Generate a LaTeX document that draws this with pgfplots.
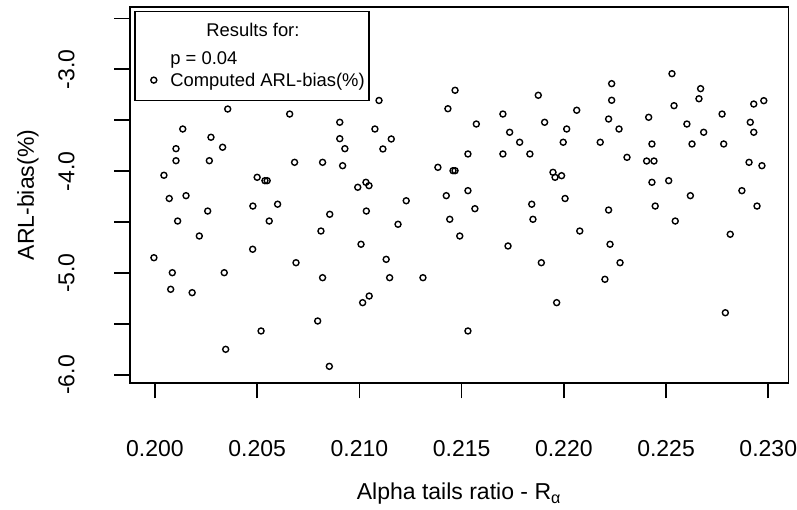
\documentclass[border=0pt]{standalone}
\usepackage{fontspec}
\setmainfont{Liberation Sans}
\usepackage{pgfplots}
\pgfplotsset{compat=1.18}
\begin{document}
\begin{tikzpicture}
\useasboundingbox (-65pt,-63.15pt) rectangle (333.5pt,191.35pt);
\begin{axis}[
  at={(0pt,0pt)}, anchor=south west,
  scale only axis,
  width=329.15pt, height=187.7pt,
  xmin=0.19878, xmax=0.23098,
  ymin=-6.0756, ymax=-2.3916,
  axis line style={line width=0.8pt, black},
  tick style={line width=0.8pt, black},
  tick align=outside, tick pos=left,
  major tick length=7.8pt,
  xtick={0.200,0.205,0.210,0.215,0.220,0.225,0.230},
  xticklabels={0.200,0.205,0.210,0.215,0.220,0.225,0.230},
  ytick={-6,-5.5,-5,-4.5,-4,-3.5,-3,-2.5},
  yticklabels={-6.0,,-5.0,,-4.0,,-3.0,},
  font=\fontsize{11.5}{13.5}\selectfont,
  xticklabel style={anchor=center, yshift=-25.2pt},
  yticklabel style={xshift=-24pt, rotate=90, anchor=center},
  xlabel={Alpha tails ratio - R\textsubscript{α}},
  ylabel={ARL-bias(\%)},
  xlabel style={at={(axis description cs:0.5,-0.2965)}, anchor=center},
  ylabel style={at={(axis description cs:-0.155,0.5)}, anchor=center},
  legend style={at={(axis description cs:0.0076,0.8825)}, anchor=north west,
    draw=none, fill=none, inner xsep=0pt, inner ysep=0pt,
    row sep=2.75pt, column sep=0pt, font=\fontsize{9.2}{11}\selectfont,
    nodes={inner sep=0pt}},
  legend cell align=left,
  clip=false,
]
\addlegendimage{empty legend}
\addlegendentry{p = 0.04}
\addplot[only marks, mark=o, mark size=1.5pt, line width=0.7pt, black,
  legend image code/.code={\path[draw=none,fill=none] (0pt,0pt) -- (17.5pt,0pt);
    \draw plot[only marks] coordinates {(9.2pt,0.6pt)};}]
coordinates {
(0.21096,-3.306)(0.20356,-3.390)(0.20659,-3.439)(0.20904,-3.520)(0.21076,-3.586)
(0.20136,-3.586)(0.20274,-3.667)(0.20904,-3.681)(0.20103,-3.779)(0.20331,-3.765)
(0.20929,-3.779)(0.20103,-3.897)(0.20266,-3.897)(0.20683,-3.913)(0.20820,-3.913)
(0.20918,-3.946)(0.20044,-4.040)(0.20500,-4.060)(0.20538,-4.093)(0.20549,-4.093)
(0.20992,-4.158)(0.21032,-4.109)(0.21047,-4.142)(0.20070,-4.268)(0.20152,-4.240)
(0.20479,-4.342)(0.20600,-4.324)(0.20258,-4.391)(0.21034,-4.391)(0.20855,-4.423)
(0.20111,-4.489)(0.20559,-4.489)(0.20217,-4.636)(0.20812,-4.587)(0.21008,-4.717)
(0.20478,-4.766)(0.19995,-4.849)(0.20690,-4.898)(0.20085,-4.996)(0.20339,-4.996)
(0.20820,-5.045)(0.20077,-5.159)(0.20182,-5.192)(0.21048,-5.225)(0.21016,-5.290)
(0.20796,-5.470)(0.20519,-5.568)(0.20346,-5.748)(0.20853,-5.915)
(0.21468,-3.206)(0.21875,-3.255)(0.21433,-3.387)(0.22063,-3.402)(0.21702,-3.439)
(0.21572,-3.537)(0.21906,-3.520)(0.21735,-3.618)(0.22014,-3.586)(0.21156,-3.684)
(0.21784,-3.716)(0.21997,-3.716)(0.21115,-3.782)(0.21531,-3.831)(0.21702,-3.831)
(0.21834,-3.831)(0.21384,-3.962)(0.21458,-3.995)(0.21468,-3.995)(0.21947,-4.011)
(0.21957,-4.060)(0.21989,-4.044)(0.21229,-4.290)(0.21425,-4.240)(0.21531,-4.191)
(0.21843,-4.324)(0.22006,-4.268)(0.21565,-4.368)(0.21189,-4.521)(0.21442,-4.472)
(0.21849,-4.472)(0.22078,-4.587)(0.21491,-4.636)(0.21727,-4.734)(0.21131,-4.865)
(0.21890,-4.898)(0.21148,-5.045)(0.21311,-5.045)(0.21965,-5.290)(0.21531,-5.568)
(0.22529,-3.043)(0.22234,-3.141)(0.22669,-3.190)(0.22234,-3.304)(0.22661,-3.289)
(0.22539,-3.357)(0.22929,-3.341)(0.22978,-3.308)(0.22219,-3.488)(0.22415,-3.471)
(0.22774,-3.439)(0.22270,-3.586)(0.22602,-3.537)(0.22912,-3.520)(0.22684,-3.618)
(0.22929,-3.618)(0.22178,-3.716)(0.22431,-3.733)(0.22627,-3.733)(0.22782,-3.733)
(0.22309,-3.864)(0.22405,-3.900)(0.22441,-3.900)(0.22906,-3.913)(0.22969,-3.946)
(0.22431,-4.109)(0.22513,-4.093)(0.22619,-4.240)(0.22871,-4.191)(0.22219,-4.381)
(0.22447,-4.342)(0.22945,-4.342)(0.22545,-4.489)(0.22814,-4.619)(0.22226,-4.717)
(0.22275,-4.898)(0.22201,-5.061)(0.22790,-5.389)
};
\addlegendentry{Computed ARL-bias(\%)}
\draw[line width=0.8pt, black] (axis description cs:0.0076,0.9883) rectangle (axis description cs:0.3635,0.7512);
\node[anchor=center, font=\fontsize{9.2}{11}\selectfont] at (axis description cs:0.1868,0.9395) {Results for:};
\end{axis}
\end{tikzpicture}
\end{document}
